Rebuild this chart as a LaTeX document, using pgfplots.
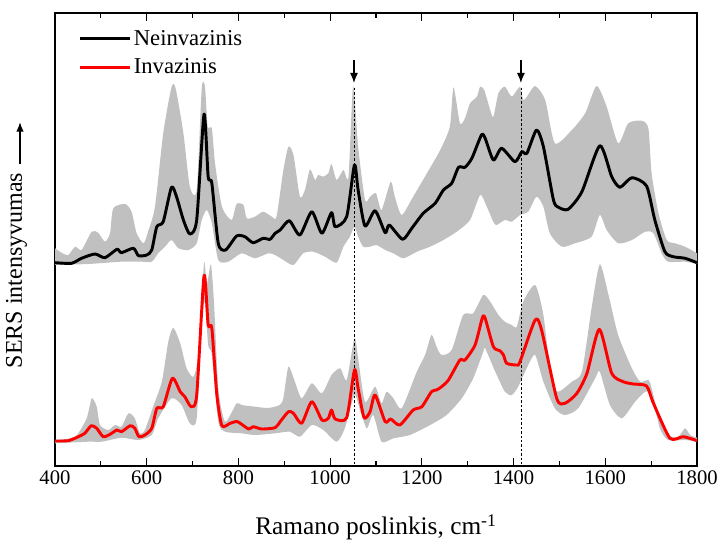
\documentclass[border=0pt]{standalone}
\usepackage{fontspec}
\setmainfont{Liberation Serif}
\usepackage{pgfplots}
\pgfplotsset{compat=1.18}
\usepgfplotslibrary{fillbetween}
\usetikzlibrary{arrows.meta}
\definecolor{bandgray}{RGB}{192,192,192}
\begin{document}
\begin{tikzpicture}
\begin{axis}[
  at={(0,0)}, anchor=south west,
  scale only axis, width=481.5pt, height=339.75pt,
  xmin=400, xmax=1800, ymin=13, ymax=466, y dir=reverse,
  xtick={400,600,...,1800}, minor x tick num=1,
  ytick=\empty, minor ytick={13,35.65,...,466},
  tick align=inside,
  major tick length=6pt, minor tick length=3.5pt,
  axis line style={line width=0.9pt},
  tick style={line width=0.8pt, black},
  xticklabel style={font=\fontsize{15.5}{18}\selectfont},
  /pgf/number format/assume math mode=true,
  /pgf/number format/1000 sep={},
  xlabel={Ramano poslinkis, cm\textsuperscript{-1}},
  xlabel style={font=\fontsize{19}{22}\selectfont, at={(axis description cs:0.5,-0.1523)}, anchor=base},
  ylabel={SERS intensyvumas\hspace{6pt}\tikz[baseline=0pt]\draw[line width=0.8pt,-{Latex[length=7pt,width=5.5pt]}] (0pt,1.5pt)--(31.5pt,1.5pt);},
  ylabel style={font=\fontsize{18}{21}\selectfont, at={(axis description cs:-0.0514,0.488)}, anchor=base},
  legend style={draw=none, fill=none, at={(axis description cs:0.0358,0.968)}, anchor=north west,
    inner sep=0pt, font=\fontsize{17}{20}\selectfont, row sep=4.5pt, cells={anchor=west}},
  legend image code/.code={\draw[#1] (0pt,0pt) -- (37.5pt,0pt);},
]
% ---- top band (Neinvazinis) ----
\addplot[name path=tu, draw=none, forget plot, smooth, tension=0.4] table {
x y
400 248.3
415 253
429 255
444 246.7
458 250
480 231.7
494 232.7
509 241.7
520 233.3
527 208.3
553 204
567 211.7
578 233.3
593 243.3
603 231.7
618 206.7
636 133.3
654 87.3
663 88.3
680 133.3
694 186.7
709 190
720 88.3
727 86.7
733 126.7
742 128.3
749 163.3
764 206.7
785 220
796 204
811 205
818 218.3
836 216.7
854 211.7
873 216.7
883 216.7
898 170
909 146.7
920 155
934 196.7
945 190
956 169.3
967 180
974 175
985 176.7
996 173.3
1003 164
1014 180
1029 170
1040 176.7
1050 86
1061 146.7
1076 200
1087 196.7
1100 193.3
1112 210
1132 181.7
1141 196.7
1156 215
1181 196.7
1211 173.3
1240 150
1261 126.7
1269 87.3
1283 123.3
1294 118.3
1305 103.3
1320 96.7
1327 86.7
1336 90
1349 110
1356 116.7
1367 93.3
1381 86.7
1396 96.7
1414 86.7
1421 100
1429 96.7
1447 86
1469 100
1490 143.3
1527 130
1556 113.3
1581 86
1603 106.7
1628 143.3
1650 123.3
1679 120.7
1694 128.3
1701 173.3
1716 213.3
1734 240
1752 243.3
1774 246.7
1800 253.3
};
\addplot[name path=tl, draw=none, forget plot, smooth, tension=0.4] table {
x y
400 265
473 264
545 261.7
589 261.7
611 261.7
625 253.3
640 246.7
654 240
669 248.3
691 250
709 243.3
720 220
731 210
742 223.3
756 260
778 261.7
807 253.3
836 258.3
865 253.3
880 255
898 260
920 265
941 253.3
963 251.7
989 256.7
1014 262.7
1029 246.7
1043 236.7
1053 226.7
1061 236.7
1072 246.7
1087 246.7
1101 245
1120 250
1138 253.3
1160 258.3
1189 251.7
1218 246.7
1247 240
1276 231.7
1305 220
1327 195
1340 205
1356 222
1363 225
1381 220
1396 221.7
1414 215
1432 211.7
1450 196.7
1465 206.7
1479 233.3
1505 246.7
1534 243.3
1570 236.7
1588 215
1603 230
1628 243.3
1658 240
1687 231.7
1705 233.3
1723 253.3
1737 261.7
1774 261.7
1800 264
};
\addplot[bandgray, forget plot] fill between[of=tu and tl];
% ---- bottom band (Invazinis) ----
\addplot[name path=bu, draw=none, forget plot, smooth, tension=0.4] table {
x y
400 440
444 436.7
469 418.3
480 398.3
491 406.7
498 425
516 430
531 425
545 426.7
560 413.3
574 418.3
585 433.3
596 430
614 406.7
633 381.7
647 341.7
658 327.7
673 343.3
687 368.3
702 376.7
712 355
725 263.3
731 285
740 264.3
747 305
756 388.3
771 421.7
796 403.3
807 405
836 406.7
865 408
890 405
898 398
909 366.7
923 381.7
938 398.3
960 383.3
982 393.3
1003 375
1022 368.3
1036 380
1053 338.3
1061 358.3
1076 401.7
1098 386.7
1112 403.3
1123 391.7
1138 398.3
1156 408.3
1189 371.7
1207 355
1221 335
1232 346.7
1243 355
1265 350
1290 315
1312 313.3
1334 295
1349 301.7
1367 315
1381 321.7
1396 325
1407 326.7
1421 301.7
1447 285
1465 315
1483 381.7
1498 391.7
1527 381.7
1549 371.7
1570 308.3
1588 264.3
1607 295
1628 335
1658 368.3
1676 381.7
1694 380
1701 388.3
1716 415
1734 435
1759 436.7
1774 428.3
1785 435
1800 437.7
};
\addplot[name path=bl, draw=none, forget plot, smooth, tension=0.4] table {
x y
400 443.3
473 441.7
502 441.7
545 437.7
582 440
611 435
625 418.3
654 398.3
676 405
694 423.3
709 418.3
720 321.7
727 301.7
734 345
742 355
756 421.7
771 431.7
807 433.3
836 435
880 433.3
912 431.7
934 436.7
960 425
985 430
1014 441.7
1032 428.3
1053 395
1065 410
1080 428.3
1094 415
1112 441.7
1138 438.3
1174 435
1218 425
1254 415
1287 398.3
1312 378.3
1334 351.7
1338 348.3
1360 371.7
1381 391.7
1396 395
1410 386.7
1432 365
1447 355
1465 381.7
1490 408.3
1512 415
1541 408.3
1578 378.3
1588 371.7
1610 405
1636 418.3
1665 401.7
1687 391.7
1701 395
1719 428.3
1737 440
1774 440
1800 441.7
};
\addplot[bandgray, forget plot] fill between[of=bu and bl];
% ---- marker lines ----
\addplot[black, line width=0.6pt, dash pattern=on 1.8pt off 1.5pt, forget plot] coordinates {(1052,88) (1052,466)};
\addplot[black, line width=0.6pt, dash pattern=on 1.8pt off 1.5pt, forget plot] coordinates {(1416,88) (1416,466)};
\addplot[black, line width=1pt, -{Latex[length=7.5pt,width=6pt]}, forget plot] coordinates {(1052,60) (1052,83)};
\addplot[black, line width=1pt, -{Latex[length=7.5pt,width=6pt]}, forget plot] coordinates {(1416,60) (1416,83)};
% ---- mean spectra ----
\addplot[black, line width=2.2pt, line join=round, smooth, tension=0.4] table {
x y
400 262.7
436 263.3
458 258.3
487 254
509 257.7
535 249.3
545 252.7
571 248.3
582 255.7
600 255
611 250
622 226.7
636 221.7
654 187.3
665 196.7
680 220
694 234
709 220
725 114.3
734 176.7
742 183.3
756 243.3
772 250
796 236
814 236.7
832 242.7
854 238.3
869 239.3
880 233.3
891 230
911 220.7
934 235
960 211.7
982 233.3
1003 212.7
1011 226.7
1036 216.7
1053 165
1061 190
1076 226
1098 210.7
1120 232.7
1129 225
1158 239.3
1178 228.3
1203 213.3
1229 203.3
1247 190
1265 183.3
1280 167.3
1294 167.3
1309 158.3
1330 135
1338 138.3
1356 160
1374 148.3
1403 161.7
1418 151.7
1429 153.3
1450 130
1465 146.7
1487 200
1498 207.3
1519 209.3
1549 191.7
1588 145.7
1614 176.7
1632 187.3
1658 177.7
1690 186
1708 220
1730 251.7
1748 256.7
1774 258.3
1800 262.7
};
\addlegendentry{Neinvazinis}
\addplot[red, line width=2.2pt, line join=round, smooth, tension=0.4] table {
x y
400 441
429 440.7
451 436.7
465 433.3
479 425.7
491 428.3
505 436.7
520 434.3
535 430
545 431.7
564 425.7
574 428.3
583 436.7
596 435
611 428.3
622 408.3
636 406.7
656 378.3
673 391.7
683 396.7
697 406.7
709 395
725 275.7
734 325
742 328.3
753 395
764 425.7
782 423.3
798 421.7
822 429
832 426.7
851 429
880 427.7
891 421.7
909 411.7
920 413.3
938 423.3
960 401.7
982 420
996 418.3
1003 410
1011 419
1036 417.7
1053 370
1061 388.3
1074 417.7
1087 411.7
1098 395
1120 421.7
1132 419
1152 425
1181 410
1200 406.7
1221 391.7
1232 390
1243 386.7
1258 380
1283 360
1294 360
1316 345
1332 317.7
1338 318.3
1356 346.7
1370 350.7
1378 355
1385 363.3
1407 365
1414 361.7
1447 320
1461 330
1494 398.3
1512 403.3
1538 393.3
1560 373.3
1587 329.3
1614 373.3
1639 381.7
1661 384
1690 386
1705 403.3
1741 438.3
1770 436.7
1800 440.7
};
\addlegendentry{Invazinis}
\end{axis}
\pgfresetboundingbox
\path (-41.25pt,-56.25pt) rectangle (498.75pt,349.5pt);
\end{tikzpicture}
\end{document}
